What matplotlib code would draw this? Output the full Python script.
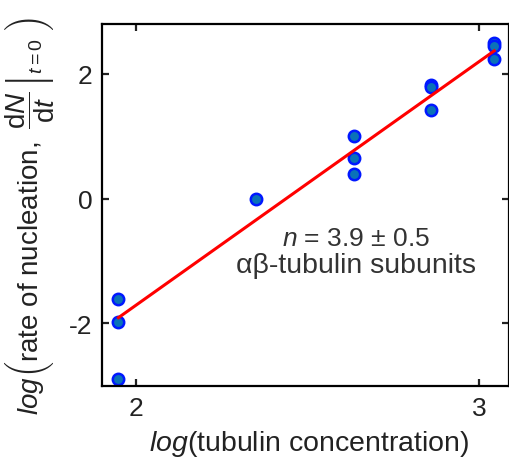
import numpy as np
import matplotlib
matplotlib.use("Agg")
import matplotlib.pyplot as plt

plt.rcParams['font.family'] = ['Liberation Sans', 'DejaVu Sans']
plt.rcParams['mathtext.fontset'] = 'custom'
plt.rcParams['mathtext.rm'] = 'Liberation Sans'
plt.rcParams['mathtext.it'] = 'Liberation Sans:italic'
plt.rcParams['mathtext.bf'] = 'Liberation Sans:bold'
plt.rcParams['mathtext.sf'] = 'Lato:weight=300'
plt.rcParams['mathtext.fallback'] = 'cm'
plt.rcParams['axes.unicode_minus'] = False

# log10 tubulin concentration and log10 initial nucleation rate
log_conc = [1.948, 1.948, 1.948, 2.35, 2.636, 2.636, 2.636,
            2.86, 2.86, 2.86, 3.044, 3.044, 3.044]
log_rate = [-1.61, -1.97, -2.89, 0.0, 1.0, 0.645, 0.39,
            1.82, 1.79, 1.42, 2.5, 2.45, 2.23]

slope = 3.9
slope_err = 0.5

x_ticks = [2, 3]
y_ticks = [-2, 0, 2]

x = np.array(log_conc)
y = np.array(log_rate)
x_fit = np.array([x.min(), x.max()])
# line of fixed slope anchored at the centre of the concentration range
x_mid = x_fit.mean()
y_mid = 0.23
y_fit = y_mid + slope * (x_fit - x_mid)

fig = plt.figure(figsize=(5.1, 4.6), dpi=100)
ax = fig.add_axes([0.2, 0.159, 0.798, 0.787])

ax.plot(x, y, 'o', ms=8.2, mfc='#0a72b8', mec='#0018ff', mew=1.8, zorder=2)
ax.plot(x_fit, y_fit, '-', color='#ff0000', lw=2.2, zorder=3)

ax.set_xlim(1.90, 3.087)
ax.set_ylim(-3.0, 2.8)
ax.set_xticks(x_ticks)
ax.set_yticks(y_ticks)
ax.tick_params(direction='in', length=5, width=1.6, labelsize=19,
               top=True, right=True, pad=7, colors='#222222')
for s in ax.spines.values():
    s.set_linewidth(1.6)

ax.set_xlabel(r'$\mathit{log}$(tubulin concentration)', fontsize=20.5,
              color='#222222', va='center')
ax.xaxis.set_label_coords(0.51, -0.157)

# evaluation bar set in a light face so it stays thin when stretched
ax.set_ylabel(r'$\mathit{log}\left(\mathrm{rate\ of\ nucleation,}\ '
              r'\mathsf{\left.\dfrac{\mathrm{d}\mathit{N}}{\mathrm{d}\mathit{t}}\,\right|}_{\mathit{t}=0}\ \right)$',
              fontsize=20, color='#222222', va='center')
ax.yaxis.set_label_coords(-0.177, 0.47)

ax.text(2.64, -0.63, r'$\mathit{n}$' + f' = {slope} ± {slope_err}',
        ha='center', va='center', fontsize=19, color='#333333')
ax.text(2.64, -1.06, 'αβ-tubulin subunits',
        ha='center', va='center', fontsize=20.5, color='#333333')

fig.savefig('out.png', dpi=100)
